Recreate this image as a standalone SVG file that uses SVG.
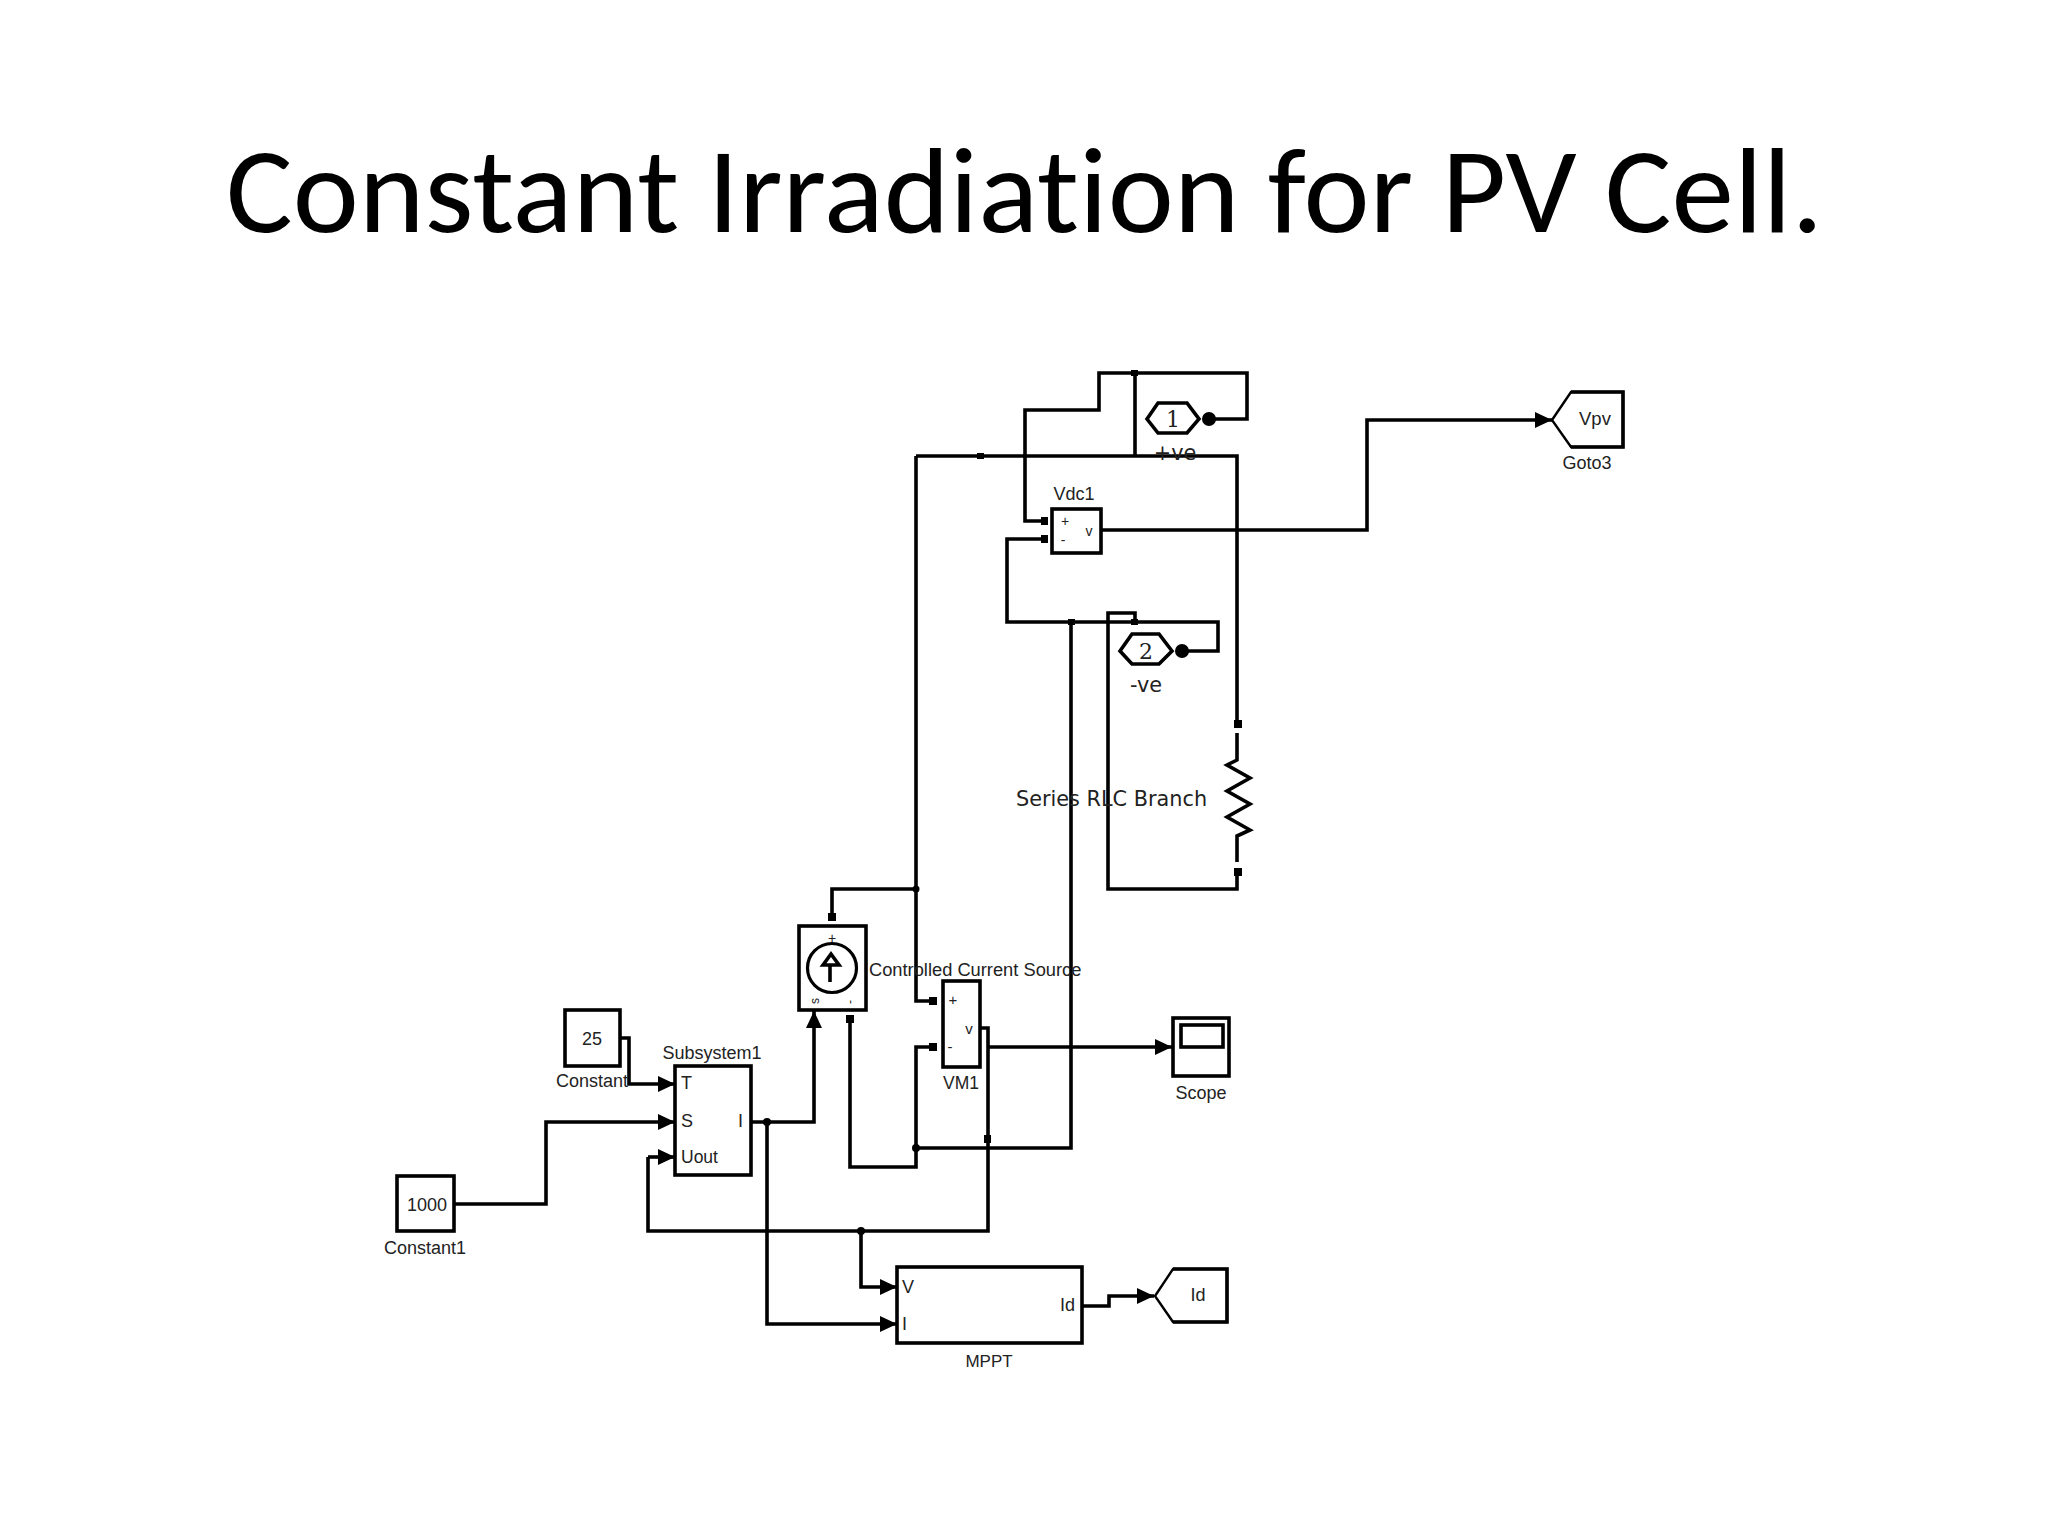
<svg xmlns="http://www.w3.org/2000/svg" width="2048" height="1536" viewBox="0 0 2048 1536">
<style>
.b{fill:#fff;stroke:#000;stroke-width:3.6}
.w{fill:none;stroke:#000;stroke-width:3.6;stroke-linejoin:miter}
.a{marker-end:url(#arr)}
.p{fill:#000}
.t{font-family:"Liberation Sans",Arial,sans-serif;font-size:18px;fill:#222}
.d{font-family:"DejaVu Sans",Verdana,sans-serif;font-size:20.8px;fill:#222}
.m{text-anchor:middle}
.s{font-family:"DejaVu Serif",serif;font-size:22px;fill:#222;text-anchor:middle}
.title{font-family:Carlito,Lato,sans-serif;font-size:122px;fill:#000;font-variant-ligatures:none}
</style>
<defs>
<marker id="arr" markerUnits="userSpaceOnUse" markerWidth="18" markerHeight="16" refX="17" refY="8" orient="auto"><path d="M0 0L17 8L0 16Z" fill="#000"/></marker>
</defs>
<rect width="2048" height="1536" fill="#fff"/>
<text class="title" x="226" y="232" textLength="1597" lengthAdjust="spacingAndGlyphs">Constant Irradiation for PV Cell.</text>
<g id="connectors">
<path class="w" d="M1209 419H1247V373H1099V410H1025V521H1041"/>
<path class="w" d="M1135 373V456"/>
<path class="w" d="M832 921V889H916M916 456V1001H929M980 456H916M980 456H1237V720"/>
<path class="w" d="M1182 651H1218V622H1007V539H1041"/>
<path class="w" d="M1135 622V613H1108V889H1237V876"/>
<path class="w" d="M1071 622V1148H916"/>
<path class="w" d="M929 1047H916V1167H850V1023"/>
<path class="w" d="M980 1028H988V1231H648V1157"/>
<path class="w a" d="M988 1047H1172"/>
<path class="w a" d="M1101 530H1367V420H1552"/>
<path class="w a" d="M620 1038H629V1084H675"/>
<path class="w a" d="M454 1204H546V1122H675"/>
<path class="w a" d="M648 1157H675"/>
<path class="w a" d="M751 1122H814V1011"/>
<path class="w a" d="M767 1122V1324H897"/>
<path class="w a" d="M861 1231V1287H897"/>
<path class="w a" d="M1082 1306H1109V1296H1154"/>
<circle class="p" cx="767" cy="1122" r="4"/>
<circle class="p" cx="861" cy="1231" r="4"/>
<circle class="p" cx="916" cy="889" r="3.5"/>
<circle class="p" cx="916" cy="1148" r="4"/>
<rect class="p" x="984" y="1135" width="7" height="8"/>
<rect class="p" x="977" y="453" width="7" height="6"/>
<rect class="p" x="1131" y="370" width="7" height="6"/>
<rect class="p" x="1068" y="619" width="7" height="6"/>
<rect class="p" x="1131" y="619" width="7" height="6"/>
</g>
<g id="inport1">
<path class="b" d="M1147 419L1158 403H1187L1199 419L1187 433H1158Z"/>
<circle class="p" cx="1209" cy="419" r="7"/>
<text class="s" x="1173" y="427">1</text>
<text class="d m" x="1175" y="460">+ve</text>
</g>
<g id="inport2">
<path class="b" d="M1120 651L1132 634H1159L1172 651L1159 664H1132Z"/>
<circle class="p" cx="1182" cy="651" r="7"/>
<text class="s" x="1146" y="659">2</text>
<text class="d m" x="1146" y="692">-ve</text>
</g>
<g id="vdc1">
<rect class="b" x="1052" y="509" width="49" height="44"/>
<rect class="p" x="1041" y="517" width="7" height="8"/>
<rect class="p" x="1041" y="535" width="7" height="8"/>
<text class="t m" x="1074" y="500">Vdc1</text>
<text class="t m" x="1065" y="526" style="font-size:14px">+</text>
<text class="t m" x="1063" y="545" style="font-size:14px">-</text>
<text class="t m" x="1089" y="536" style="font-size:14px">v</text>
</g>
<g id="goto3">
<path d="M1552 420L1571 392H1623V447H1571Z" fill="#fff" stroke="#000" stroke-width="2.4"/>
<path class="w" d="M1571 392H1623V447H1571"/>
<text class="t" x="1579" y="425" style="font-size:18.5px">Vpv</text>
<text class="t m" x="1587" y="469">Goto3</text>
</g>
<g id="rlc">
<rect class="p" x="1234" y="720" width="8" height="8"/>
<rect class="p" x="1234" y="868" width="8" height="8"/>
<path class="w" d="M1237 733V760L1227 765L1250 778L1227 791L1250 804L1227 817L1250 830L1237 836V862"/>
<text class="d" x="1016" y="806">Series RLC Branch</text>
</g>
<g id="ccs">
<rect class="b" x="799" y="926" width="67" height="84"/>
<rect class="p" x="828" y="913" width="8" height="8"/>
<rect class="p" x="846" y="1015" width="8" height="8"/>
<text class="t m" x="832" y="943" style="font-size:14px">+</text>
<circle cx="832" cy="968" r="24.5" fill="none" stroke="#000" stroke-width="3.2"/>
<path class="w" d="M830 982V965M823 965L831 954L839 965Z"/>
<text class="t m" transform="translate(819 1001) rotate(-90)" style="font-size:12px">s</text>
<text class="t m" transform="translate(854 1002) rotate(-90)" style="font-size:12px">-</text>
<text class="t" x="869" y="976" style="font-size:18.3px">Controlled Current Source</text>
</g>
<g id="vm1">
<rect class="b" x="943" y="981" width="37" height="86"/>
<rect class="p" x="929" y="997" width="8" height="8"/>
<rect class="p" x="929" y="1043" width="8" height="8"/>
<text class="t m" x="953" y="1005" style="font-size:15px">+</text>
<text class="t m" x="950" y="1052" style="font-size:15px">-</text>
<text class="t m" x="969" y="1034" style="font-size:15px">v</text>
<text class="t m" x="961" y="1089" style="font-size:17.5px">VM1</text>
</g>
<g id="scope">
<rect class="b" x="1173" y="1018" width="56" height="58"/>
<rect class="b" x="1181" y="1025" width="42" height="22"/>
<text class="t m" x="1201" y="1099">Scope</text>
</g>
<g id="constant">
<rect class="b" x="565" y="1010" width="55" height="56"/>
<text class="t m" x="592" y="1045">25</text>
<text class="t m" x="592" y="1087">Constant</text>
</g>
<g id="constant1">
<rect class="b" x="397" y="1176" width="57" height="55"/>
<text class="t m" x="427" y="1211">1000</text>
<text class="t m" x="425" y="1254">Constant1</text>
</g>
<g id="subsystem1">
<rect class="b" x="675" y="1066" width="76" height="109"/>
<text class="t m" x="712" y="1059">Subsystem1</text>
<text class="t" x="681" y="1089">T</text>
<text class="t" x="681" y="1127">S</text>
<text class="t" x="681" y="1163" style="font-size:17.5px">Uout</text>
<text class="t" x="738" y="1127">I</text>
</g>
<g id="mppt">
<rect class="b" x="897" y="1267" width="185" height="76"/>
<text class="t" x="902" y="1293">V</text>
<text class="t" x="902" y="1330">I</text>
<text class="t" x="1060" y="1311">Id</text>
<text class="t m" x="989" y="1367" style="font-size:17px">MPPT</text>
</g>
<g id="goto-id">
<path d="M1155 1296L1173 1269H1227V1322H1173Z" fill="#fff" stroke="#000" stroke-width="2.4"/>
<path class="w" d="M1173 1269H1227V1322H1173"/>
<text class="t m" x="1198" y="1301">Id</text>
</g>
</svg>
